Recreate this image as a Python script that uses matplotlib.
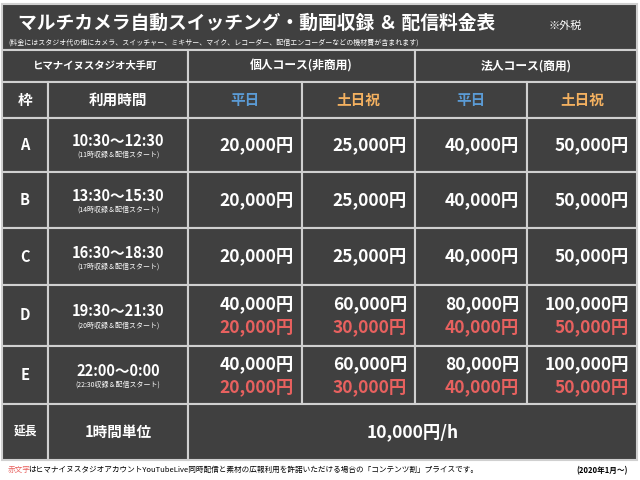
import matplotlib.pyplot as plt
from matplotlib.patches import Rectangle

plt.rcParams['font.family'] = 'Noto Sans CJK JP'

slots = ['A', 'B', 'C', 'D', 'E']
times = ['10:30～12:30', '13:30～15:30', '16:30～18:30', '19:30～21:30', '22:00～0:00']
starts = ['(11時収録＆配信スタート)', '(14時収録＆配信スタート)', '(17時収録＆配信スタート)',
          '(20時収録＆配信スタート)', '(22:30収録＆配信スタート)']
prices = [['20,000円', '25,000円', '40,000円', '50,000円'],
          ['20,000円', '25,000円', '40,000円', '50,000円'],
          ['20,000円', '25,000円', '40,000円', '50,000円'],
          ['40,000円', '60,000円', '80,000円', '100,000円'],
          ['40,000円', '60,000円', '80,000円', '100,000円']]
discount = [None, None, None,
            ['20,000円', '30,000円', '40,000円', '50,000円'],
            ['20,000円', '30,000円', '40,000円', '50,000円']]

BG = '#404040'
LINE = '#d0d0d0'
BLUE = '#5b9bd5'
ORANGE = '#f4b160'
RED = '#e8615f'

fig = plt.figure(figsize=(6.4, 4.8), dpi=100)
ax = fig.add_axes([0, 0, 1, 1])
ax.set_xlim(0, 640)
ax.set_ylim(480, 0)
ax.axis('off')

cols = [2, 48, 188, 302, 415, 527, 637]
rows = [118, 172, 228, 285, 346, 404, 460]

def cell(x0, x1, y0, y1):
    ax.add_patch(Rectangle((x0, y0), x1 - x0, y1 - y0, facecolor=BG, edgecolor=LINE, lw=1.5))

# title block
cell(cols[0], cols[-1], 4, 50)
ax.text(18, 23, 'マルチカメラ自動スイッチング・動画収録 ＆ 配信料金表', color='white',
        fontsize=13.5, fontweight='bold', va='center')
ax.text(548, 26, '※外税', color='white', fontsize=8, va='center')
ax.text(8, 43, '(料金にはスタジオ代の他にカメラ、スイッチャー、ミキサー、マイク、レコーダー、配信エンコーダーなどの機材費が含まれます)',
        color='white', fontsize=5, va='center')

# header row 1
cell(cols[0], cols[2], 50, 82)
cell(cols[2], cols[4], 50, 82)
cell(cols[4], cols[6], 50, 82)
ax.text((cols[0] + cols[2]) / 2, 66, 'ヒマナイヌスタジオ大手町', color='white', fontsize=7.5,
        fontweight='bold', ha='center', va='center')
ax.text((cols[2] + cols[4]) / 2, 66, '個人コース(非商用)', color='white', fontsize=8.5,
        fontweight='bold', ha='center', va='center')
ax.text((cols[4] + cols[6]) / 2, 66, '法人コース(商用)', color='white', fontsize=8.5,
        fontweight='bold', ha='center', va='center')

# header row 2
heads = ['枠', '利用時間', '平日', '土日祝', '平日', '土日祝']
hcolors = ['white', 'white', BLUE, ORANGE, BLUE, ORANGE]
for i, (h, c) in enumerate(zip(heads, hcolors)):
    cell(cols[i], cols[i + 1], 82, 118)
    ax.text((cols[i] + cols[i + 1]) / 2, 100, h, color=c, fontsize=10.5, fontweight='bold',
            ha='center', va='center')

# body rows
for r in range(5):
    y0, y1 = rows[r], rows[r + 1]
    ym = (y0 + y1) / 2
    for i in range(6):
        cell(cols[i], cols[i + 1], y0, y1)
    ax.text((cols[0] + cols[1]) / 2, ym, slots[r], color='white', fontsize=10.5,
            fontweight='bold', ha='center', va='center')
    ax.text((cols[1] + cols[2]) / 2, ym - 4, times[r], color='white', fontsize=10.5,
            fontweight='bold', ha='center', va='center')
    ax.text((cols[1] + cols[2]) / 2, ym + 10, starts[r], color='white', fontsize=5,
            ha='center', va='center')
    for j in range(4):
        xr = cols[j + 3] - 8
        if discount[r] is None:
            ax.text(xr, ym, prices[r][j], color='white', fontsize=12.5, fontweight='bold',
                    ha='right', va='center')
        else:
            ax.text(xr, ym - 11, prices[r][j], color='white', fontsize=12.5, fontweight='bold',
                    ha='right', va='center')
            ax.text(xr, ym + 12, discount[r][j], color=RED, fontsize=12.5, fontweight='bold',
                    ha='right', va='center')

# extension row
y0, y1 = rows[5], rows[6]
ym = (y0 + y1) / 2
cell(cols[0], cols[1], y0, y1)
cell(cols[1], cols[2], y0, y1)
cell(cols[2], cols[6], y0, y1)
ax.text((cols[0] + cols[1]) / 2, ym, '延長', color='white', fontsize=8.5, fontweight='bold', ha='center', va='center')
ax.text((cols[1] + cols[2]) / 2, ym, '1時間単位', color='white', fontsize=10.5, fontweight='bold', ha='center', va='center')
ax.text((cols[2] + cols[6]) / 2, ym, '10,000円/h', color='white', fontsize=12.5, fontweight='bold', ha='center', va='center')

# footnote
ax.text(8, 470, '赤文字', color=RED, fontsize=5.5, va='center')
ax.text(28, 470, 'はヒマナイヌスタジオアカウントYouTubeLive同時配信と素材の広報利用を許諾いただける場合の「コンテンツ割」プライスです。',
        color='black', fontsize=5.5, va='center')
ax.text(628, 471, '(2020年1月～)', color='black', fontsize=5.5, fontweight='bold', ha='right', va='center')

fig.savefig('out.png', dpi=100)
